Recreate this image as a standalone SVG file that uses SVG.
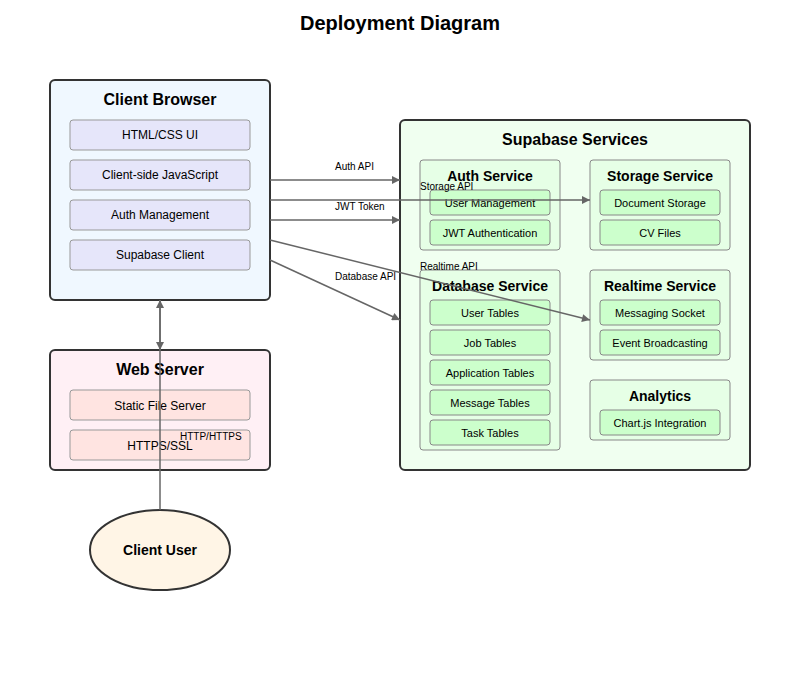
<svg xmlns="http://www.w3.org/2000/svg" width="800" height="680" viewBox="0 0 800 680">
<defs>
<marker id="arr" viewBox="0 0 10 10" refX="10" refY="5" markerWidth="13" markerHeight="8" markerUnits="userSpaceOnUse" orient="auto">
<path d="M0,0 L10,5 L0,10 z" fill="#666"/>
</marker>
<style>
text{font-family:"Liberation Sans",Arial,sans-serif;fill:#000}
.title{font-size:20px;font-weight:bold;text-anchor:middle}
.box{stroke:#333;stroke-width:2}
.h1{font-size:16px;font-weight:bold;text-anchor:middle}
.h2{font-size:14px;font-weight:bold;text-anchor:middle}
.comp{stroke:#999;stroke-width:1}
.ct{font-size:12px;text-anchor:middle}
.svc{fill:#e6ffe6;stroke:#888;stroke-width:1}
.sc{fill:#ccffcc;stroke:#888;stroke-width:1}
.st{font-size:11px;text-anchor:middle}
.lbl{font-size:10px}
.conn{stroke:#666;stroke-width:1.5;fill:none;marker-end:url(#arr)}
</style>
</defs>
<rect width="800" height="680" fill="#fff"/>
<text class="title" x="400" y="30">Deployment Diagram</text>

<g id="client-browser">
<rect class="box" x="50" y="80" width="220" height="220" rx="5" fill="#f0f8ff"/>
<text class="h1" x="160" y="105">Client Browser</text>
<rect class="comp" x="70" y="120" width="180" height="30" rx="3" fill="#e6e6fa"/>
<text class="ct" x="160" y="139">HTML/CSS UI</text>
<rect class="comp" x="70" y="160" width="180" height="30" rx="3" fill="#e6e6fa"/>
<text class="ct" x="160" y="179">Client-side JavaScript</text>
<rect class="comp" x="70" y="200" width="180" height="30" rx="3" fill="#e6e6fa"/>
<text class="ct" x="160" y="219">Auth Management</text>
<rect class="comp" x="70" y="240" width="180" height="30" rx="3" fill="#e6e6fa"/>
<text class="ct" x="160" y="259">Supabase Client</text>
</g>

<g id="web-server">
<rect class="box" x="50" y="350" width="220" height="120" rx="5" fill="#fff0f5"/>
<text class="h1" x="160" y="375">Web Server</text>
<rect class="comp" x="70" y="390" width="180" height="30" rx="3" fill="#ffe4e1"/>
<text class="ct" x="160" y="410">Static File Server</text>
<rect class="comp" x="70" y="430" width="180" height="30" rx="3" fill="#ffe4e1"/>
<text class="ct" x="160" y="450">HTTPS/SSL</text>
</g>

<g id="client-user">
<ellipse cx="160" cy="550" rx="70" ry="40" fill="#fff5e6" stroke="#333" stroke-width="2"/>
<text class="h2" x="160" y="555">Client User</text>
</g>

<g id="supabase-services">
<rect class="box" x="400" y="120" width="350" height="350" rx="5" fill="#f0fff0"/>
<text class="h1" x="575" y="145">Supabase Services</text>
</g>

<g id="auth-service">
<rect class="svc" x="420" y="160" width="140" height="90" rx="3"/>
<text class="h2" x="490" y="181">Auth Service</text>
<rect class="sc" x="430" y="190" width="120" height="25" rx="3"/>
<text class="st" x="490" y="207">User Management</text>
<rect class="sc" x="430" y="220" width="120" height="25" rx="3"/>
<text class="st" x="490" y="237">JWT Authentication</text>
</g>

<g id="storage-service">
<rect class="svc" x="590" y="160" width="140" height="90" rx="3"/>
<text class="h2" x="660" y="181">Storage Service</text>
<rect class="sc" x="600" y="190" width="120" height="25" rx="3"/>
<text class="st" x="660" y="207">Document Storage</text>
<rect class="sc" x="600" y="220" width="120" height="25" rx="3"/>
<text class="st" x="660" y="237">CV Files</text>
</g>

<g id="database-service">
<rect class="svc" x="420" y="270" width="140" height="180" rx="3"/>
<text class="h2" x="490" y="291">Database Service</text>
<rect class="sc" x="430" y="300" width="120" height="25" rx="3"/>
<text class="st" x="490" y="317">User Tables</text>
<rect class="sc" x="430" y="330" width="120" height="25" rx="3"/>
<text class="st" x="490" y="347">Job Tables</text>
<rect class="sc" x="430" y="360" width="120" height="25" rx="3"/>
<text class="st" x="490" y="377">Application Tables</text>
<rect class="sc" x="430" y="390" width="120" height="25" rx="3"/>
<text class="st" x="490" y="407">Message Tables</text>
<rect class="sc" x="430" y="420" width="120" height="25" rx="3"/>
<text class="st" x="490" y="437">Task Tables</text>
</g>

<g id="realtime-service">
<rect class="svc" x="590" y="270" width="140" height="90" rx="3"/>
<text class="h2" x="660" y="291">Realtime Service</text>
<rect class="sc" x="600" y="300" width="120" height="25" rx="3"/>
<text class="st" x="660" y="317">Messaging Socket</text>
<rect class="sc" x="600" y="330" width="120" height="25" rx="3"/>
<text class="st" x="660" y="347">Event Broadcasting</text>
</g>

<g id="analytics">
<rect class="svc" x="590" y="380" width="140" height="60" rx="3"/>
<text class="h2" x="660" y="401">Analytics</text>
<rect class="sc" x="600" y="410" width="120" height="25" rx="3"/>
<text class="st" x="660" y="427">Chart.js Integration</text>
</g>

<g id="connectors">
<line class="conn" x1="270" y1="180" x2="400" y2="180"/>
<text class="lbl" x="335" y="170">Auth API</text>
<line class="conn" x1="270" y1="200" x2="590" y2="200"/>
<text class="lbl" x="420" y="190">Storage API</text>
<line class="conn" x1="270" y1="220" x2="400" y2="220"/>
<text class="lbl" x="335" y="210">JWT Token</text>
<line class="conn" x1="270" y1="240" x2="590" y2="320"/>
<text class="lbl" x="420" y="270">Realtime API</text>
<line class="conn" x1="270" y1="260" x2="400" y2="320"/>
<text class="lbl" x="335" y="280">Database API</text>
<line class="conn" x1="160" y1="300" x2="160" y2="350"/>
<line class="conn" x1="160" y1="510" x2="160" y2="300"/>
<text class="lbl" x="180" y="440">HTTP/HTTPS</text>
</g>
</svg>
